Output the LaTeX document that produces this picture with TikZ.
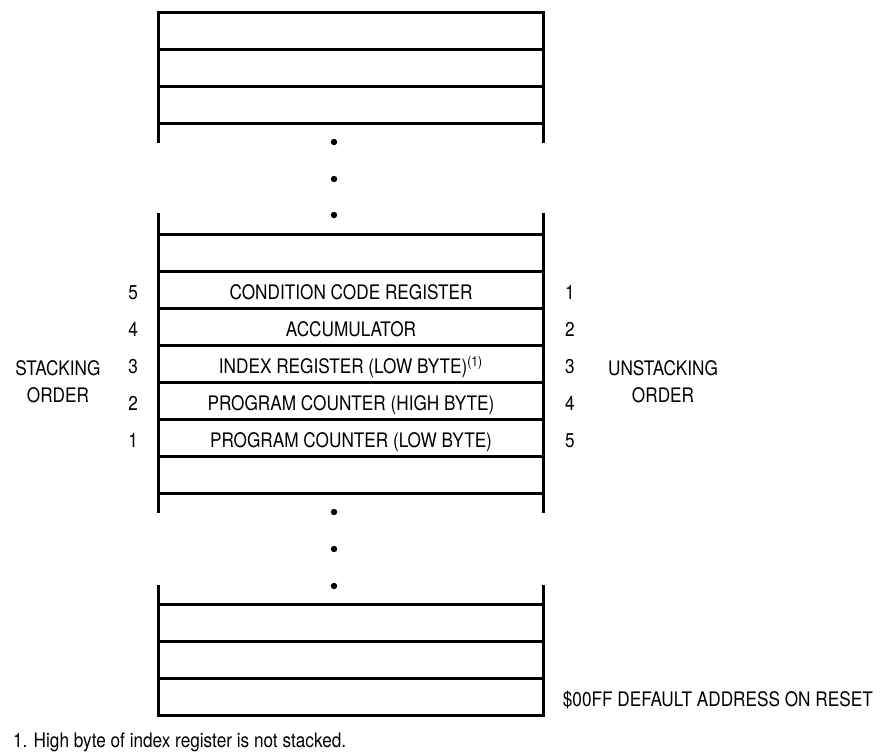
\documentclass[tikz,border=0pt]{standalone}
\usepackage{fontspec}
\setmainfont{TeX Gyre Heros}[FakeStretch=0.86]
\usetikzlibrary{positioning}

\begin{document}
\begin{tikzpicture}[x=0.5pt,y=-0.5pt,font=\fontsize{10}{13.5}\selectfont,
   cell/.style={draw,line width=1.5pt,minimum width=192.3pt,minimum height=18.5pt,
                inner sep=0pt,outer sep=0pt,text height=10pt,text depth=0pt},
   num/.style={inner sep=0pt,outer sep=0pt,text height=10pt,text depth=0pt},
   side/.style={line width=1.5pt},
   vdot/.style={circle,fill,inner sep=0pt,minimum size=3.2pt}]
  \useasboundingbox (0,0) rectangle (888,752);

  % top of the stack
  \node[cell] (t1) at (351,30.5) {};
  \node[cell,below=0pt of t1] (t2) {};
  \node[cell,below=0pt of t2] (t3) {};
  \draw[side] (t3.south west) -- ++(0,20);
  \draw[side] (t3.south east) -- ++(0,20);
  \node[vdot] (d1) at (334,142) {};
  \node[vdot] (d2) at (334,179) {};
  \node[vdot] (d3) at (334,215) {};

  % stacked registers
  \node[cell] (m1) at (351,252.5) {};
  \node[cell,below=0pt of m1] (m2) {CONDITION CODE REGISTER};
  \node[cell,below=0pt of m2] (m3) {ACCUMULATOR};
  \node[cell,below=0pt of m3] (m4) {INDEX REGISTER (LOW BYTE)\textsuperscript{(1)}};
  \node[cell,below=0pt of m4] (m5) {PROGRAM COUNTER (HIGH BYTE)};
  \node[cell,below=0pt of m5] (m6) {PROGRAM COUNTER (LOW BYTE)};
  \node[cell,below=0pt of m6] (m7) {};
  \draw[side] (m1.north west) -- ++(0,-21);
  \draw[side] (m1.north east) -- ++(0,-21);
  \draw[side] (m7.south west) -- ++(0,20);
  \draw[side] (m7.south east) -- ++(0,20);

  \node[num,left=10.4pt of m2] (s5) {5};
  \node[num,left=10.4pt of m3] (s4) {4};
  \node[num,left=10.4pt of m4] (s3) {3};
  \node[num,left=10.4pt of m5] (s2) {2};
  \node[num,left=10.4pt of m6] (s1) {1};
  \node[num,right=10.9pt of m2] (u1) {1};
  \node[num,right=10.9pt of m3] (u2) {2};
  \node[num,right=10.9pt of m4] (u3) {3};
  \node[num,right=10.9pt of m5] (u4) {4};
  \node[num,right=10.9pt of m6] (u5) {5};
  \node[align=center,inner sep=0pt] (stk) at (58,381.5) {STACKING\\ORDER};
  \node[align=center,inner sep=0pt] (unstk) at (663,381.5) {UNSTACKING\\ORDER};

  \node[vdot] (d4) at (334,512) {};
  \node[vdot] (d5) at (334,549) {};
  \node[vdot] (d6) at (334,586) {};

  % bottom of the stack
  \node[cell] (b1) at (351,622.5) {};
  \node[cell,below=0pt of b1] (b2) {};
  \node[cell,below=0pt of b2] (b3) {};
  \draw[side] (b1.north west) -- ++(0,-19);
  \draw[side] (b1.north east) -- ++(0,-19);
  \node[num,right=9.8pt of b3] (rst) {\$00FF DEFAULT ADDRESS ON RESET};

  \node[num,anchor=west] (note) at (13,737) {1. High byte of index register is not stacked.};
\end{tikzpicture}
\end{document}
